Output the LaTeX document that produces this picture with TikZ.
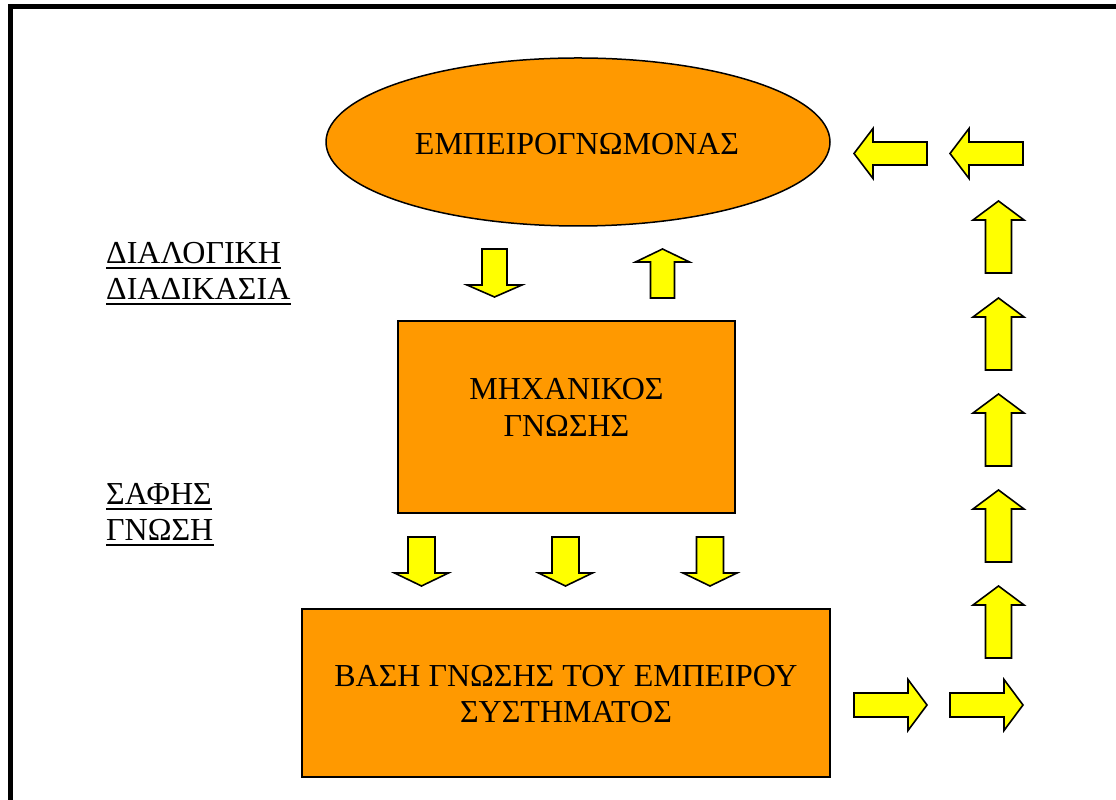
\documentclass[tikz,border=0pt]{standalone}
\usepackage{fontspec}
\setmainfont{Liberation Serif}
\usetikzlibrary{shapes.geometric}
\definecolor{boxorange}{HTML}{FF9900}
\definecolor{arrowyellow}{HTML}{FFFF00}
\tikzset{
  shapebox/.style={draw=black, line width=1.5pt, fill=boxorange},
  bigtext/.style={font=\fontsize{32}{37}\selectfont, inner sep=0pt, text=black},
  blockarrow/.style={draw=black, line width=1.6pt, fill=arrowyellow, line join=miter},
  pics/barrow/.style args={#1/#2/#3/#4}{code={
    \draw[blockarrow] (0,-#3/2) -- ({#1-#2},-#3/2) -- ({#1-#2},-#4/2) -- (#1,0)
      -- ({#1-#2},#4/2) -- ({#1-#2},#3/2) -- (0,#3/2) -- cycle;}},
  uline/.style={line width=1.8pt},
  framestyle/.style={line width=5pt}
}
\begin{document}
\begin{tikzpicture}[x=1pt,y=1pt]
\useasboundingbox (0,0) rectangle (1116,800);
% frame
\coordinate (fbl) at (10.5,0);
\coordinate (ftl) at (10.5,793.5);
\coordinate (ftr) at (1116,793.5);
\draw[framestyle, line join=miter] (fbl) -- (ftl) -- (ftr);
% main shapes
\node[shapebox, ellipse, minimum width=504pt, minimum height=168pt, inner sep=0pt] (expert) at (578,658) {};
\node[bigtext, anchor=base] (experttext) at (577,645) {ΕΜΠΕΙΡΟΓΝΩΜΟΝΑΣ};
\node[shapebox, rectangle, minimum width=337pt, minimum height=192pt, inner sep=0pt] (engineer) at (566.5,383) {};
\node[bigtext, anchor=base] (eng1) at (566.5,400) {ΜΗΧΑΝΙΚΟΣ};
\node[bigtext, anchor=base] (eng2) at (566.5,363) {ΓΝΩΣΗΣ};
\node[shapebox, rectangle, minimum width=528pt, minimum height=168pt, inner sep=0pt] (kb) at (566,107) {};
\node[bigtext, anchor=base] (kb1) at (566,113) {ΒΑΣΗ ΓΝΩΣΗΣ ΤΟΥ ΕΜΠΕΙΡΟΥ};
\node[bigtext, anchor=base] (kb2) at (566,77) {ΣΥΣΤΗΜΑΤΟΣ};
% side labels
\node[bigtext, anchor=base west] (l1) at (106,536) {ΔΙΑΛΟΓΙΚΗ};
\node[bigtext, anchor=base west] (l2) at (106,500) {ΔΙΑΔΙΚΑΣΙΑ};
\node[bigtext, anchor=base west] (l3) at (106,295) {ΣΑΦΗΣ};
\node[bigtext, anchor=base west] (l4) at (106,259) {ΓΝΩΣΗ};
\foreach \n in {l1,l2,l3,l4}
  \draw[uline] ([yshift=-4pt]\n.base west) -- ([yshift=-4pt]\n.base east);
% arrows between ellipse and engineer
\pic[rotate=-90] (a1) at (494.5,551) {barrow=48/12/25/55};
\pic[rotate=90] (a2) at (662.5,502) {barrow=49/13/24/54};
% arrows engineer to KB
\pic[rotate=-90] (a3) at (421.5,263) {barrow=49/13/27/54};
\pic[rotate=-90] (a4) at (565.5,263) {barrow=49/13/27/54};
\pic[rotate=-90] (a5) at (710,263) {barrow=49/13/27/54};
% bottom right arrows
\pic (a6) at (854,95) {barrow=73/19/24/51};
\pic (a7) at (950,95) {barrow=73/19/24/51};
% column of up arrows
\foreach \t [count=\i] in {142,238,334,430,527}
  \pic[rotate=90] (c\i) at (998.5,\t) {barrow=72/19/26/51};
% top right left arrows
\pic[rotate=180] (a8) at (1023,646.5) {barrow=73/19/23/50};
\pic[rotate=180] (a9) at (927,646.5) {barrow=73/19/23/50};
\end{tikzpicture}
\end{document}
